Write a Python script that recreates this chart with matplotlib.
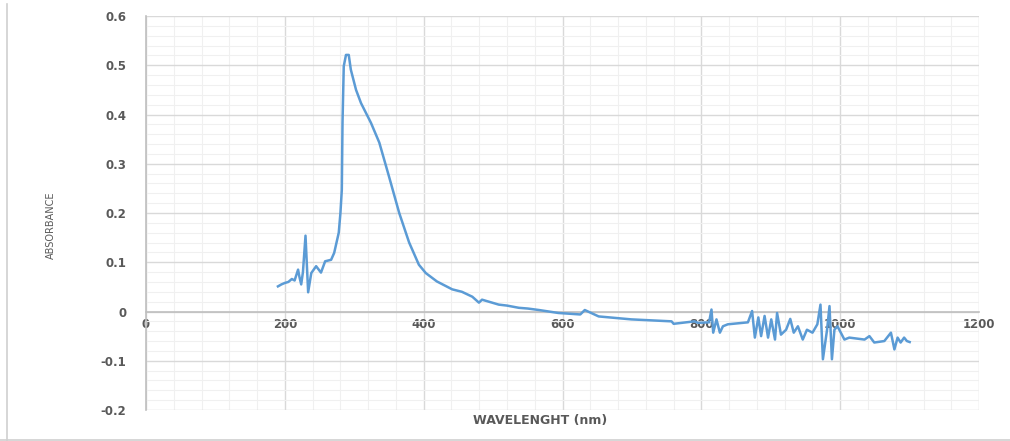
import numpy as np
import matplotlib.pyplot as plt
from matplotlib.ticker import MultipleLocator
from matplotlib.lines import Line2D

# absorbance spectrum (wavelength nm, absorbance)
wavelength = [190, 195, 200, 205, 210, 214, 219, 221, 223.5, 226, 229.7, 233.5,
              238, 245, 252, 258, 266.6, 271, 277.6, 280, 282, 283, 284.8, 288,
              292, 295, 302.5, 309.7, 324, 336, 350, 364.7, 379, 393, 403, 419,
              441, 455, 458, 470, 479.5, 484, 508, 520, 537, 550, 566, 594,
              625.5, 632, 652, 699, 757, 760, 790, 795, 811, 814.5, 817, 821.7, 826.6,
              831, 838, 867, 873, 877, 882, 886, 891, 896, 900.6, 906, 909,
              914.6, 922, 928, 933, 939, 946, 952, 960, 967, 971.5, 975, 981,
              984.5, 988, 991.6, 996, 1006, 1013, 1035, 1042, 1049, 1063.5, 1073,
              1078, 1082.6, 1087, 1092, 1096, 1100]
absorbance = [0.051, 0.055, 0.058, 0.060, 0.066, 0.063, 0.085, 0.07, 0.055, 0.08, 0.154, 0.039,
              0.078, 0.092, 0.079, 0.102, 0.105, 0.119, 0.16, 0.20, 0.247, 0.383, 0.498, 0.521,
              0.521, 0.491, 0.45, 0.423, 0.383, 0.343, 0.274, 0.20, 0.14, 0.095, 0.078, 0.061,
              0.045, 0.040, 0.038, 0.03, 0.018, 0.024, 0.014, 0.012, 0.0075, 0.006, 0.003, -0.003,
              -0.006, 0.003, -0.01, -0.016, -0.02, -0.025, -0.02, -0.023, -0.022, 0.004, -0.043, -0.016, -0.043,
              -0.03, -0.026, -0.022, 0.001, -0.053, -0.012, -0.05, -0.009, -0.053, -0.016, -0.057, -0.003,
              -0.047, -0.037, -0.015, -0.043, -0.03, -0.057, -0.037, -0.043, -0.026, 0.014, -0.097, -0.037,
              0.011, -0.097, -0.037, -0.03, -0.057, -0.053, -0.057, -0.05, -0.063, -0.06, -0.043,
              -0.077, -0.053, -0.063, -0.053, -0.06, -0.062]

x_ticks = [0, 200, 400, 600, 800, 1000, 1200]
y_ticks = [-0.2, -0.1, 0, 0.1, 0.2, 0.3, 0.4, 0.5, 0.6]

TICK_GREY = "#595959"

fig = plt.figure(figsize=(10.10, 4.41), dpi=100)
ax = fig.add_axes([0.1446, 0.0703, 0.8248, 0.8934])

ax.plot(wavelength, absorbance, color="#5B9BD5", linewidth=1.8, zorder=3)

ax.set_xlim(0, 1200)
ax.set_ylim(-0.2, 0.6)
ax.set_xticks(x_ticks)
ax.set_yticks(y_ticks)
ax.xaxis.set_minor_locator(MultipleLocator(40))
ax.yaxis.set_minor_locator(MultipleLocator(0.02))
ax.grid(which="major", color="#d9d9d9", linewidth=1.0, zorder=0)
ax.grid(which="minor", color="#f0f0f0", linewidth=0.8, zorder=0)
ax.set_axisbelow(True)

for s in ("top", "right"):
    ax.spines[s].set_visible(False)
ax.spines["left"].set_color("#bfbfbf")
ax.spines["left"].set_linewidth(1.2)
ax.spines["bottom"].set_position(("data", 0))
ax.spines["bottom"].set_color("#bfbfbf")
ax.spines["bottom"].set_linewidth(1.2)

ax.tick_params(which="both", length=0)
ax.tick_params(axis="y", pad=14, labelsize=8.5, labelcolor=TICK_GREY)
ax.tick_params(axis="x", pad=5, labelsize=8.5, labelcolor=TICK_GREY)
ax.set_yticklabels(["-0.2", "-0.1", "0", "0.1", "0.2", "0.3", "0.4", "0.5", "0.6"],
                   fontweight="bold")
ax.set_xticklabels([str(v) for v in x_ticks], fontweight="bold")
for lab in ax.get_xticklabels():
    lab.set_zorder(4)

fig.text(0.050, 0.49, "ABSORBANCE", rotation=90, ha="center", va="center",
         fontsize=7, color=TICK_GREY)
fig.text(0.535, 0.047, "WAVELENGHT (nm)", ha="center", va="center",
         fontsize=9, fontweight="bold", color=TICK_GREY)

# light frame on the left and bottom of the picture
fig.add_artist(Line2D([0.007, 0.007], [0.0, 0.99], transform=fig.transFigure,
                      color="#d0d0d0", linewidth=1.2))
fig.add_artist(Line2D([0.0, 1.0], [0.003, 0.003], transform=fig.transFigure,
                      color="#d0d0d0", linewidth=1.2))

fig.savefig("out.png", dpi=100)
